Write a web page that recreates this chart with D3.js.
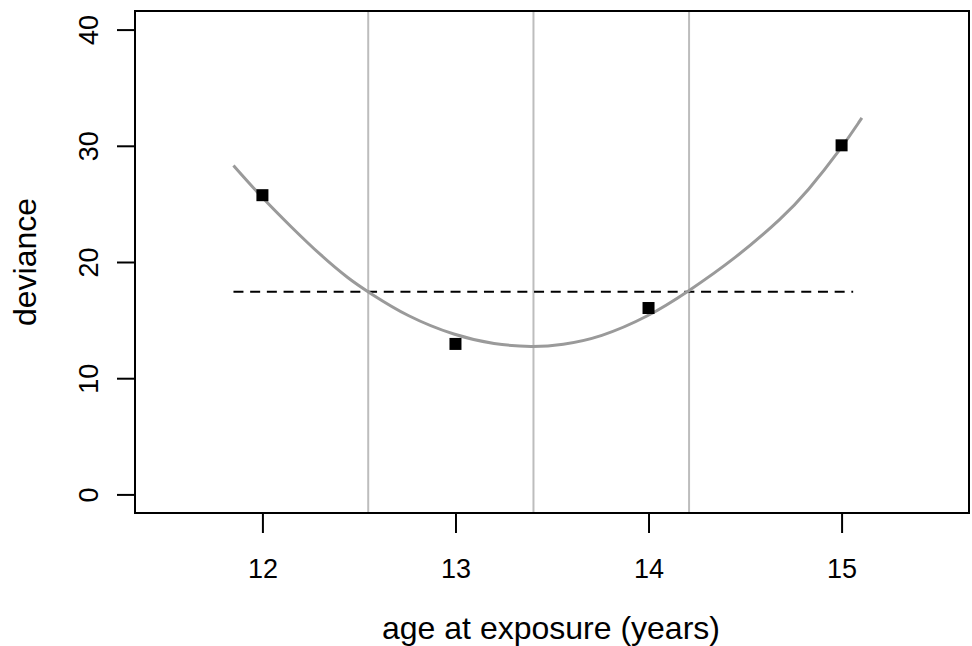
<!DOCTYPE html>
<html>
<head>
<meta charset="utf-8">
<script src="https://cdn.jsdelivr.net/npm/d3@7"></script>
<style>
  body { margin: 0; background: #fff; }
  svg { display: block; font-family: "Liberation Sans", Arial, sans-serif; }
</style>
</head>
<body>
<svg id="chart" width="972" height="646"></svg>
<script>
// observed deviance at each age
var ages = [12, 13, 14, 15];
var deviance = [25.75, 12.95, 16.04, 30.04];

// fitted curve
var curveAge = [11.85, 12.0, 12.15, 12.3, 12.45, 12.55, 12.75, 13.0, 13.2, 13.4, 13.55, 13.75, 14.0, 14.2, 14.45, 14.7, 14.82, 15.0, 15.105];
var curveDev = [28.3, 25.5, 23.0, 20.6, 18.5, 17.4, 15.3, 13.65, 12.9, 12.67, 12.85, 13.5, 15.3, 17.4, 20.3, 23.9, 26.0, 29.8, 32.4];

// cut-off level and where it crosses the curve
var cutoff = 17.44;
var cutoffRange = [11.85, 15.06];
var vlines = [12.548, 13.404, 14.21];

var xTicks = [12, 13, 14, 15];
var yTicks = [0, 10, 20, 30, 40];

var svg = d3.select('#chart');
var box = {left: 135, right: 969, top: 11, bottom: 513};

var x = d3.scaleLinear().domain([11.34, 15.66]).range([box.left, box.right]);
var y = d3.scaleLinear().domain([-1.6, 41.6]).range([box.bottom, box.top]);

// vertical reference lines
svg.append('g').selectAll('line')
    .data(vlines)
    .join('line')
    .attr('x1', d => x(d)).attr('x2', d => x(d))
    .attr('y1', box.top).attr('y2', box.bottom)
    .attr('stroke', '#bdbdbd')
    .attr('stroke-width', 2);

// dashed cut-off
svg.append('line')
    .attr('x1', x(cutoffRange[0])).attr('x2', x(cutoffRange[1]))
    .attr('y1', y(cutoff)).attr('y2', y(cutoff))
    .attr('stroke', '#000')
    .attr('stroke-width', 2)
    .attr('stroke-dasharray', '10,6.7');

// fitted curve
var line = d3.line()
    .x(d => x(d[0]))
    .y(d => y(d[1]))
    .curve(d3.curveBasis);

svg.append('path')
    .datum(d3.zip(curveAge, curveDev))
    .attr('d', line)
    .attr('fill', 'none')
    .attr('stroke', '#9a9a9a')
    .attr('stroke-width', 3);

// points
var sz = 12;
svg.append('g').selectAll('rect')
    .data(d3.zip(ages, deviance))
    .join('rect')
    .attr('x', d => x(d[0]) - sz / 2)
    .attr('y', d => y(d[1]) - sz / 2)
    .attr('width', sz).attr('height', sz)
    .attr('fill', '#000');

// axes
var xAxis = svg.append('g')
    .attr('transform', 'translate(0,' + box.bottom + ')')
    .call(d3.axisBottom(x).tickValues(xTicks).tickFormat(d3.format('d')).tickSize(20).tickPadding(26));
var yAxis = svg.append('g')
    .attr('transform', 'translate(' + box.left + ',0)')
    .call(d3.axisLeft(y).tickValues(yTicks).tickFormat(d3.format('d')).tickSize(18).tickPadding(0));

[xAxis, yAxis].forEach(function(a) {
    a.select('.domain').remove();
    a.selectAll('.tick line').attr('stroke', '#000').attr('stroke-width', 2);
    a.selectAll('.tick text')
        .attr('fill', '#000')
        .style('font-size', '27px')
        .style('font-family', '"Liberation Sans", Arial, sans-serif');
});

yAxis.selectAll('.tick text')
    .attr('x', null).attr('dy', null)
    .attr('text-anchor', 'middle')
    .attr('transform', 'translate(-46,0) rotate(-90)')
    .attr('dominant-baseline', 'central');

// plot frame
svg.append('rect')
    .attr('x', box.left).attr('y', box.top)
    .attr('width', box.right - box.left)
    .attr('height', box.bottom - box.top)
    .attr('fill', 'none')
    .attr('stroke', '#000')
    .attr('stroke-width', 2);

// axis titles
svg.append('text')
    .attr('x', (box.left + box.right) / 2 - 1)
    .attr('y', 639)
    .attr('text-anchor', 'middle')
    .style('font-size', '32px')
    .text('age at exposure (years)');

svg.append('text')
    .attr('transform', 'translate(36,' + (box.top + box.bottom) / 2 + ') rotate(-90)')
    .attr('text-anchor', 'middle')
    .style('font-size', '32px')
    .text('deviance');
</script>
</body>
</html>
